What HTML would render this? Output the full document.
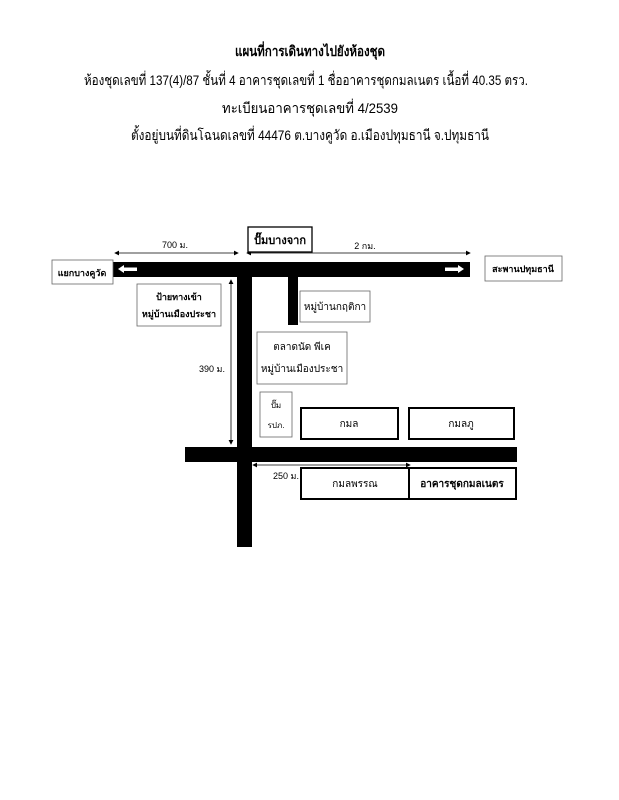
<!DOCTYPE html>
<html><head><meta charset="utf-8"><style>
html,body{margin:0;padding:0;background:#fff;}
svg{display:block;}
text{font-family:"Liberation Sans","DejaVu Sans",sans-serif;fill:#000;}
</style></head><body>
<svg width="619" height="800" viewBox="0 0 619 800" xmlns="http://www.w3.org/2000/svg">
<defs>
<marker id="a" markerWidth="6" markerHeight="6" refX="5" refY="3" orient="auto-start-reverse"><path d="M0,0 L6,3 L0,6z" fill="#000"/></marker>
</defs>
<text x="310" y="56" font-size="14" font-weight="bold" text-anchor="middle" textLength="150" lengthAdjust="spacingAndGlyphs">แผนที่การเดินทางไปยังห้องชุด</text>
<text x="306" y="85" font-size="14" text-anchor="middle" textLength="444" lengthAdjust="spacingAndGlyphs">ห้องชุดเลขที่  137(4)/87 ชั้นที่ 4 อาคารชุดเลขที่ 1 ชื่ออาคารชุดกมลเนตร เนื้อที่ 40.35 ตรว.</text>
<text x="310" y="113" font-size="14" text-anchor="middle" textLength="176" lengthAdjust="spacingAndGlyphs">ทะเบียนอาคารชุดเลขที่ 4/2539</text>
<text x="310" y="140" font-size="14" text-anchor="middle" textLength="358" lengthAdjust="spacingAndGlyphs">ตั้งอยู่บนที่ดินโฉนดเลขที่  44476 ต.บางคูวัด อ.เมืองปทุมธานี จ.ปทุมธานี</text>

<rect x="112" y="262" width="358" height="15" fill="#000"/>
<rect x="237" y="262" width="15" height="285" fill="#000"/>
<rect x="288" y="277" width="10" height="48" fill="#000"/>
<rect x="185" y="447" width="332" height="15" fill="#000"/>
<path d="M118,269 L124,265 L124,267.5 L137,267.5 L137,271 L124,271 L124,273z" fill="#fff"/>
<path d="M464,269 L458,265 L458,267.5 L445,267.5 L445,271 L458,271 L458,273z" fill="#fff"/>

<line x1="115" y1="253" x2="238" y2="253" stroke="#000" stroke-width="0.8" marker-start="url(#a)" marker-end="url(#a)"/>
<line x1="247" y1="253" x2="470" y2="253" stroke="#000" stroke-width="0.8" marker-start="url(#a)" marker-end="url(#a)"/>
<line x1="231" y1="280" x2="231" y2="444" stroke="#000" stroke-width="0.8" marker-start="url(#a)" marker-end="url(#a)"/>
<line x1="253" y1="465" x2="410" y2="465" stroke="#000" stroke-width="0.8" marker-start="url(#a)" marker-end="url(#a)"/>
<text x="175" y="248" font-size="9" fill="#444" text-anchor="middle">700 ม.</text>
<text x="365" y="249" font-size="9" text-anchor="middle">2 กม.</text>
<text x="212" y="372" font-size="9" text-anchor="middle">390 ม.</text>
<text x="286" y="479" font-size="9" text-anchor="middle">250 ม.</text>

<g fill="#fff" stroke="#666" stroke-width="0.8">
<rect x="52" y="260" width="61" height="24"/>
<rect x="485" y="256" width="77" height="25"/>
<rect x="137" y="284" width="84" height="42"/>
<rect x="300" y="291" width="70" height="31"/>
<rect x="257" y="332" width="90" height="52"/>
<rect x="260" y="392" width="32" height="45"/>
</g>
<rect x="248" y="227" width="64" height="25" fill="#fff" stroke="#000" stroke-width="1.3"/>
<g fill="#fff" stroke="#000" stroke-width="2">
<rect x="301" y="408" width="97" height="31"/>
<rect x="409" y="408" width="105" height="31"/>
<rect x="301" y="468" width="108" height="31"/>
<rect x="409" y="468" width="107" height="31"/>
</g>
<text x="82" y="276" font-size="9" font-weight="bold" text-anchor="middle">แยกบางคูวัด</text>
<text x="523" y="272" font-size="9" font-weight="bold" text-anchor="middle">สะพานปทุมธานี</text>
<text x="280" y="244" font-size="11" font-weight="bold" text-anchor="middle">ปั๊มบางจาก</text>
<text x="179" y="300" font-size="9" font-weight="bold" text-anchor="middle">ป้ายทางเข้า</text>
<text x="179" y="317" font-size="9" font-weight="bold" text-anchor="middle">หมู่บ้านเมืองประชา</text>
<text x="335" y="310" font-size="10" fill="#333" text-anchor="middle">หมู่บ้านกฤติกา</text>
<text x="302" y="350" font-size="10" text-anchor="middle">ตลาดนัด พีเค</text>
<text x="302" y="372" font-size="10" text-anchor="middle">หมู่บ้านเมืองประชา</text>
<text x="276" y="408" font-size="8" text-anchor="middle">ปั๊ม</text>
<text x="276" y="428" font-size="8" text-anchor="middle">รปภ.</text>
<text x="349" y="427" font-size="10" text-anchor="middle">กมล</text>
<text x="461" y="427" font-size="10" text-anchor="middle">กมลภู</text>
<text x="355" y="487" font-size="10" text-anchor="middle">กมลพรรณ</text>
<text x="462" y="487" font-size="10" font-weight="bold" text-anchor="middle">อาคารชุดกมลเนตร</text>
</svg>
</body></html>
